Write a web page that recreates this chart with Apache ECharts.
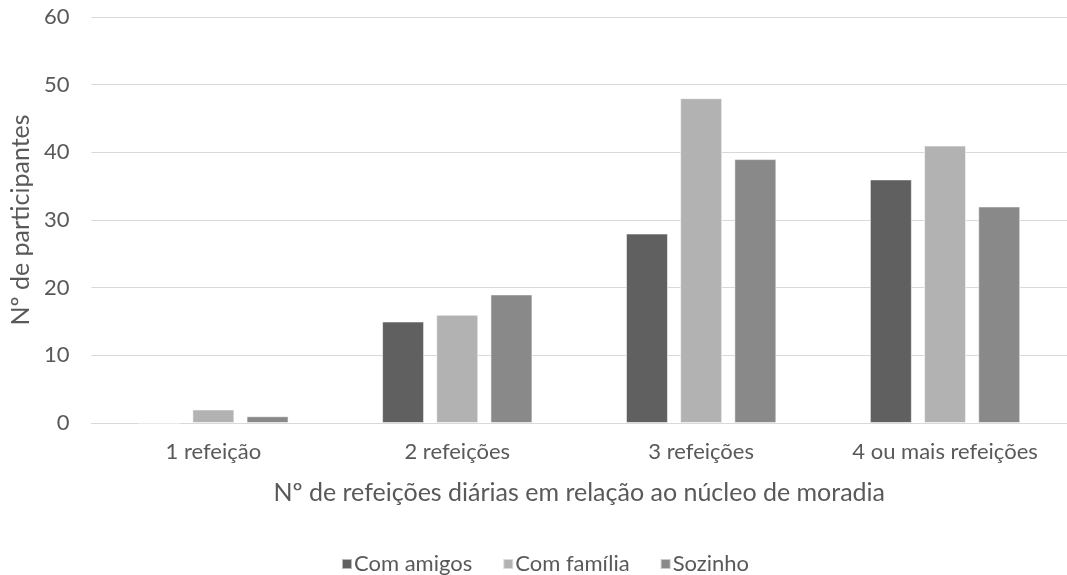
<!DOCTYPE html>
<html>
<head>
<meta charset="utf-8">
<script src="https://cdn.jsdelivr.net/npm/echarts@6/dist/echarts.min.js"></script>
<style>
  html, body { margin: 0; padding: 0; background: #fff; }
  #chart { width: 1067px; height: 575px; }
</style>
</head>
<body>
<div id="chart"></div>
<script>
// Daily meals by household type
const categories = ['1 refeição', '2 refeições', '3 refeições', '4 ou mais refeições'];
const comAmigos = [0, 15, 28, 36];
const comFamilia = [2, 16, 48, 41];
const sozinho = [1, 19, 39, 32];
const yTicks = { min: 0, max: 60, interval: 10 };

const FONT = 'Lato';
const TEXT = '#595959';
const GRID = '#d9d9d9';

const barStyle = (color) => ({
  color: color,
  borderColor: 'rgba(255,255,255,0.55)',
  borderWidth: 1
});

const chart = echarts.init(document.getElementById('chart'), null, { renderer: 'canvas' });
chart.setOption({
  animation: false,
  backgroundColor: '#ffffff',
  textStyle: { fontFamily: FONT, color: TEXT },
  grid: { left: 90, top: 17, width: 986, height: 406, containLabel: false },
  xAxis: {
    type: 'category',
    data: categories,
    axisLine: { show: true, lineStyle: { color: GRID, width: 1 } },
    axisTick: { show: false },
    axisLabel: { fontFamily: FONT, fontSize: 22, color: TEXT, margin: 18 },
    name: 'Nº de refeições diárias em relação ao núcleo de moradia',
    nameLocation: 'middle',
    nameGap: 57,
    nameTextStyle: { fontFamily: FONT, fontSize: 25, color: TEXT }
  },
  yAxis: {
    type: 'value',
    min: yTicks.min,
    max: yTicks.max,
    interval: yTicks.interval,
    axisLine: { show: false },
    axisTick: { show: false },
    splitLine: { lineStyle: { color: GRID, width: 1 } },
    axisLabel: { fontFamily: FONT, fontSize: 22, color: TEXT, margin: 22 },
    name: 'Nº de participantes',
    nameLocation: 'middle',
    nameGap: 56,
    nameRotate: 90,
    nameTextStyle: { fontFamily: FONT, fontSize: 25, color: TEXT }
  },
  legend: {
    top: 548,
    left: 336,
    itemWidth: 10,
    itemHeight: 10,
    itemGap: 30,
    icon: 'rect',
    textStyle: { fontFamily: FONT, fontSize: 22, color: TEXT, padding: [0, 0, 0, -3] },
    data: ['Com amigos', 'Com família', 'Sozinho']
  },
  series: [
    { name: 'Com amigos', type: 'bar', data: comAmigos, barWidth: 42, barGap: '29%', itemStyle: barStyle('#606060') },
    { name: 'Com família', type: 'bar', data: comFamilia, barWidth: 42, barGap: '29%', itemStyle: barStyle('#b2b2b2') },
    { name: 'Sozinho', type: 'bar', data: sozinho, barWidth: 42, barGap: '29%', itemStyle: barStyle('#898989') }
  ]
});
</script>
</body>
</html>
